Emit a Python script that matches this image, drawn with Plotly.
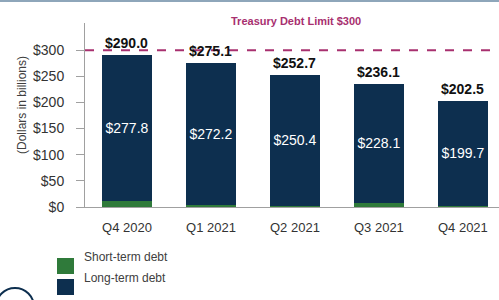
import plotly.graph_objects as go

categories = ["Q4 2020", "Q1 2021", "Q2 2021", "Q3 2021", "Q4 2021"]
long_term = [277.8, 272.2, 250.4, 228.1, 199.7]
totals = [290.0, 275.1, 252.7, 236.1, 202.5]
short_term = [round(t - l, 1) for t, l in zip(totals, long_term)]
debt_limit = 300
y_ticks = [0, 50, 100, 150, 200, 250, 300]
y_tick_labels = [f"${v}" for v in y_ticks]

FONT = "Liberation Sans, Arial, sans-serif"
NAVY = "#0d2f4f"
GREEN = "#2f7a3a"
MAGENTA = "#a8306f"

W, H = 499, 300
ML, MR, MT, MB = 85, 0, 23, 93
PW, PH = W - ML - MR, H - MT - MB


def px(x):
    return (x - ML) / PW


def py(y):
    return (H - MB - y) / PH


fig = go.Figure()
fig.add_trace(go.Bar(
    x=categories, y=short_term, name="Short-term debt",
    marker=dict(color=GREEN, line=dict(width=0)), hoverinfo="y",
))
fig.add_trace(go.Bar(
    x=categories, y=long_term, name="Long-term debt",
    marker=dict(color=NAVY, line=dict(width=0)),
    texttemplate="$%{y:.1f}", textposition="inside", insidetextanchor="middle",
    textfont=dict(color="white", size=14, family=FONT), textangle=0,
))

for c, t in zip(categories, totals):
    fig.add_annotation(x=c, y=t, xref="x", yref="y", text=f"<b>${t:.1f}</b>",
                       showarrow=False, yanchor="bottom", yshift=2,
                       font=dict(size=14, color="#111111", family=FONT))

fig.add_shape(type="line", xref="paper", yref="y", x0=0, x1=1, y0=debt_limit, y1=debt_limit,
              line=dict(color=MAGENTA, width=2, dash="dash"))
fig.add_annotation(xref="paper", yref="paper", x=px(296), y=py(13),
                   text=f"<b>Treasury Debt Limit ${debt_limit}</b>", showarrow=False,
                   font=dict(size=11, color=MAGENTA, family=FONT))
fig.add_annotation(xref="paper", yref="paper", x=px(13), y=py(105), textangle=-90,
                   text="(Dollars in billions)", showarrow=False,
                   font=dict(size=12, color="#404040", family=FONT))
# top border line
fig.add_shape(type="line", xref="paper", yref="paper", x0=px(0), x1=px(W), y0=py(1), y1=py(1),
              line=dict(color="#8ea6ba", width=2))
# logo arc (bottom-left)
fig.add_shape(type="circle", xref="paper", yref="paper",
              x0=px(-4), x1=px(34), y0=py(326), y1=py(288),
              line=dict(color=NAVY, width=2))

# custom legend (larger swatches as in the reference)
legend_items = [("Short-term debt", GREEN, 266), ("Long-term debt", NAVY, 287)]
for label, color, yc in legend_items:
    fig.add_shape(type="rect", xref="paper", yref="paper",
                  x0=px(57), x1=px(74), y0=py(yc + 8), y1=py(yc - 8),
                  fillcolor=color, line=dict(width=0))
    fig.add_annotation(xref="paper", yref="paper", x=px(82), y=py(yc), xanchor="left",
                       text=label, showarrow=False,
                       font=dict(size=12, color="#404040", family=FONT))

fig.update_layout(
    width=W, height=H,
    margin=dict(l=ML, r=MR, t=MT, b=MB, autoexpand=False),
    barmode="stack", bargap=0.4,
    plot_bgcolor="white", paper_bgcolor="white",
    font=dict(family=FONT, color="#404040", size=13),
    showlegend=False,
    xaxis=dict(range=[-0.5, 4.43], showline=True, linecolor="#a0a0a0", linewidth=1,
               ticks="", tickfont=dict(size=13, color="#333333"), showgrid=False, fixedrange=True,
               automargin=False, ticklabelstandoff=8),
    yaxis=dict(range=[0, 352], tickmode="array", tickvals=y_ticks, ticktext=y_tick_labels,
               showline=True, linecolor="#a0a0a0", linewidth=1, ticks="outside", ticklen=8,
               tickcolor="#a0a0a0", showgrid=False, zeroline=False,
               tickfont=dict(size=14, color="#333333"), ticklabelstandoff=9, automargin=False),
)

fig.write_html("out.html", config={"displayModeBar": False},
               post_script="document.body.style.margin='0px';")
